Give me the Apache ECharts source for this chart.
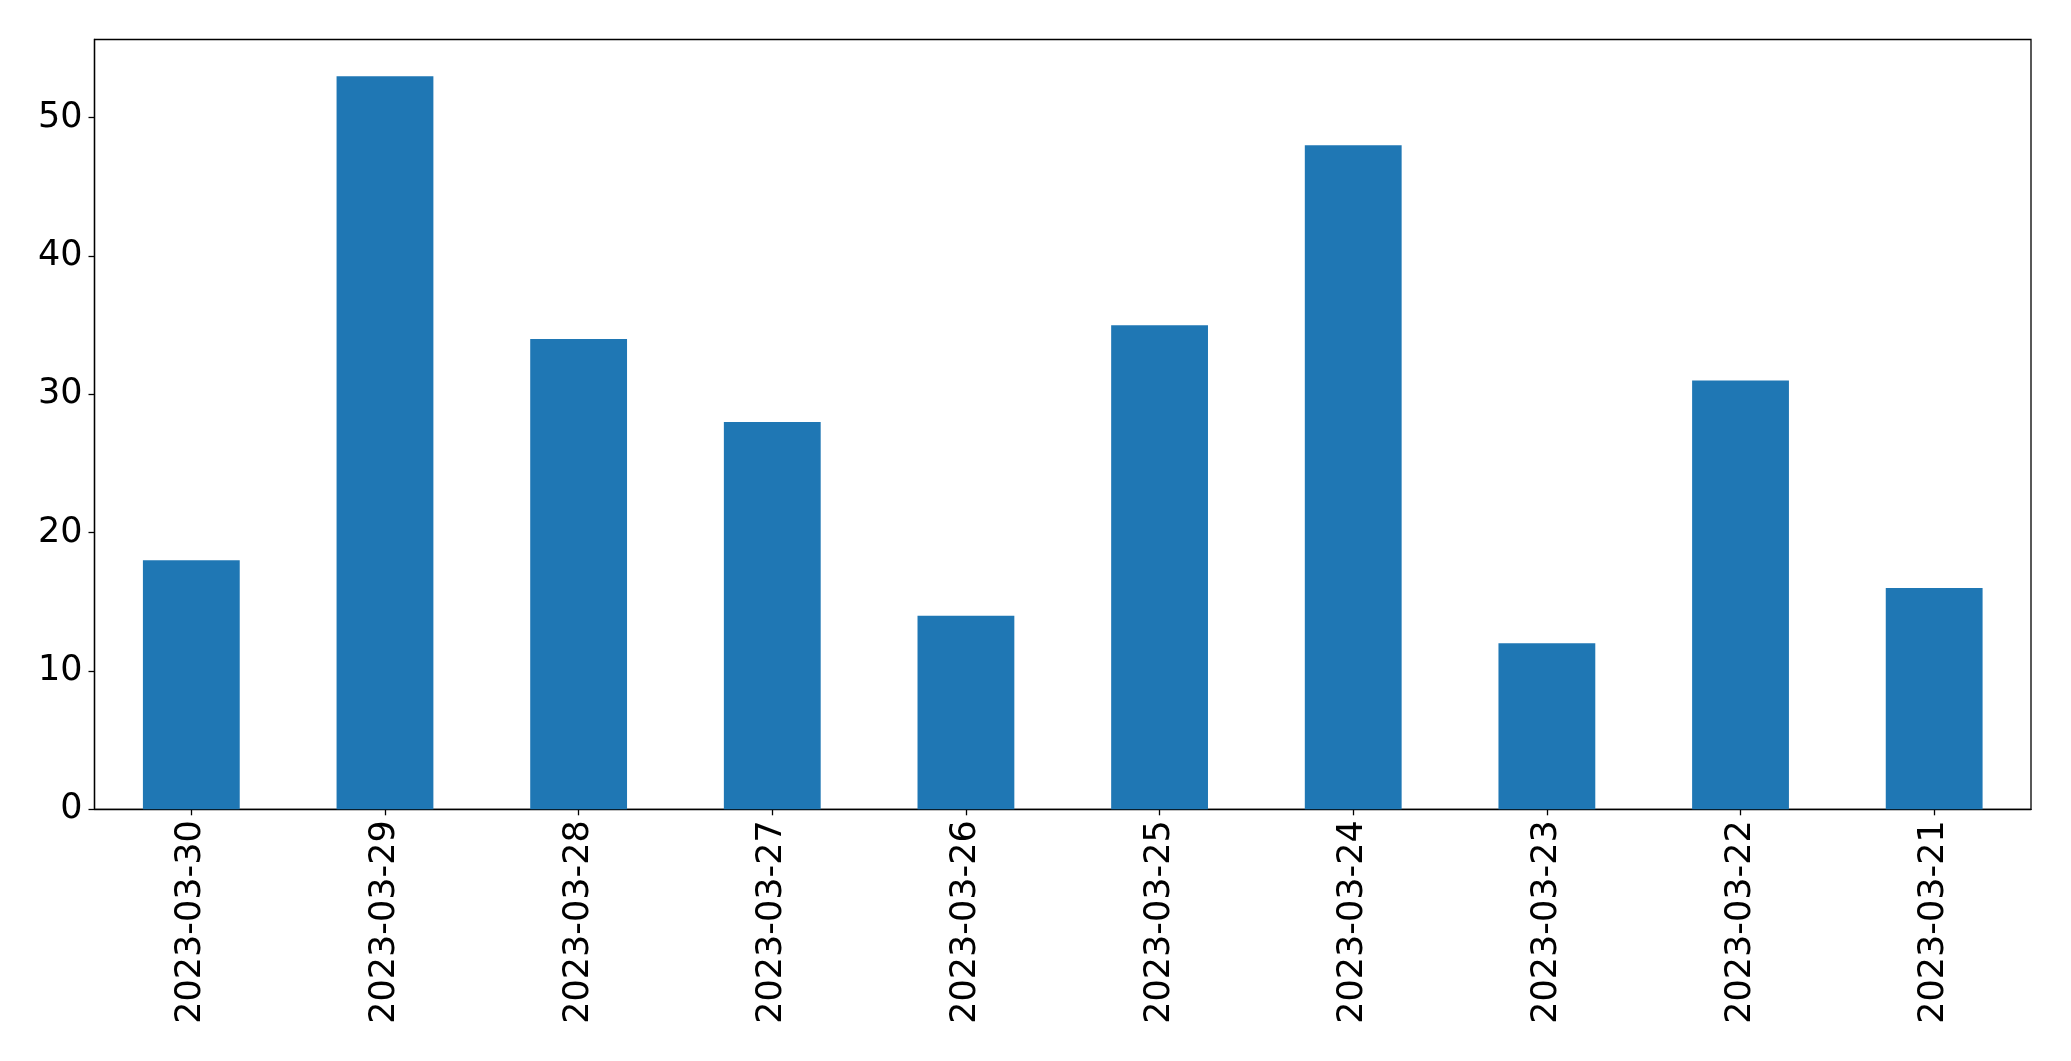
<!DOCTYPE html>
<html><head><meta charset="utf-8">
<script src="https://cdn.jsdelivr.net/npm/echarts@6/dist/echarts.min.js"></script>
<style>html,body{margin:0;padding:0;background:#fff}#c{width:2071px;height:1061px}</style>
</head><body><div id="c"></div>
<script>
const categories = ['2023-03-30','2023-03-29','2023-03-28','2023-03-27','2023-03-26','2023-03-25','2023-03-24','2023-03-23','2023-03-22','2023-03-21'];
const values = [18, 53, 34, 28, 14, 35, 48, 12, 31, 16];
const yTicks = [0, 10, 20, 30, 40, 50];
const yMax = 55.65;

const chart = echarts.init(document.getElementById('c'), null, {renderer: 'canvas'});
const font = 'DejaVu Sans';
chart.setOption({
  animation: false,
  grid: {left: 94.5, right: 40, top: 39.5, bottom: 251.7, show: true, borderColor: '#000', borderWidth: 1.3, backgroundColor: 'transparent'},
  xAxis: {
    type: 'category', data: categories, boundaryGap: true,
    axisLine: {show: true, lineStyle: {color: '#000', width: 1.3}},
    axisTick: {show: true, alignWithLabel: true, length: 6, lineStyle: {color: '#000', width: 1.3}},
    axisLabel: {rotate: 90, fontFamily: font, fontSize: 35, color: '#000', margin: 11, interval: 0}
  },
  yAxis: {
    type: 'value', min: 0, max: yMax, interval: 10,
    axisLine: {show: true, lineStyle: {color: '#000', width: 1.3}},
    axisTick: {show: true, length: 6, lineStyle: {color: '#000', width: 1.3}},
    splitLine: {show: false},
    axisLabel: {fontFamily: font, fontSize: 35, color: '#000', margin: 12, showMaxLabel: false,
      formatter: v => yTicks.includes(v) ? String(v) : ''}
  },
  series: [{type: 'bar', data: values, barWidth: '50%', itemStyle: {color: '#1f77b4'}}]
});
</script></body></html>
